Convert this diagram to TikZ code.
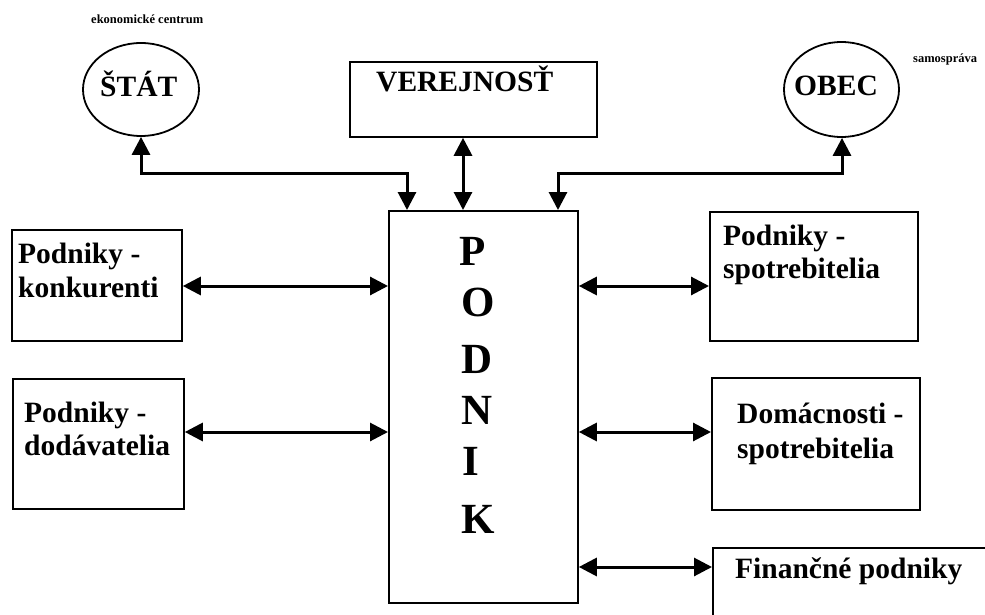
\documentclass[tikz,border=0pt]{standalone}
\usepackage{fontspec}
\setmainfont{Liberation Serif}
\usetikzlibrary{shapes.geometric,arrows.meta}
\begin{document}
\begin{tikzpicture}[x=1pt,y=-1pt,
  frame/.style={draw,line width=1.8pt,rectangle,inner sep=0pt,anchor=north west},
  oval/.style={draw,line width=1.8pt,ellipse,inner sep=0pt},
  lbl/.style={font=\fontsize{29.5}{34}\selectfont\bfseries,inner sep=0pt,anchor=base west},
  note/.style={font=\fontsize{12.5}{14}\selectfont\bfseries,inner sep=0pt,anchor=base west},
  big/.style={font=\fontsize{43}{50}\selectfont\bfseries,inner sep=0pt,anchor=base west},
  conn/.style={line width=3pt,{Triangle[length=18pt,width=18pt]}-{Triangle[length=18pt,width=18pt]}}
]
\useasboundingbox (0,0) rectangle (985,615);

% central block
\node[frame,minimum width=189pt,minimum height=392pt] (podnik) at (388,210) {};
\node[big] (p1) at (459,265) {P};
\node[big] (p2) at (461,316) {O};
\node[big] (p3) at (461,373) {D};
\node[big] (p4) at (461,424) {N};
\node[big] (p5) at (462,475) {I};
\node[big] (p6) at (461,533) {K};

% top partners
\node[oval,minimum width=116pt,minimum height=93pt] (stat) at (141,89.5) {};
\node[lbl] (statT) at (100,97) {ŠTÁT};
\node[note] (statN) at (91,24) {ekonomické centrum};

\node[frame,minimum width=247pt,minimum height=75pt] (ver) at (349,61) {};
\node[lbl] (verT) at (376,92) {VEREJNOSŤ};

\node[oval,minimum width=115pt,minimum height=95pt] (obec) at (841.5,89.5) {};
\node[lbl] (obecT) at (794,96) {OBEC};
\node[note] (obecN) at (913,63) {samospráva};

% left partners
\node[frame,minimum width=170pt,minimum height=111pt] (konk) at (11,229) {};
\node[lbl] (konkA) at (18,263) {Podniky -};
\node[lbl] (konkB) at (18,297) {konkurenti};

\node[frame,minimum width=171pt,minimum height=130pt] (dod) at (12,378) {};
\node[lbl] (dodA) at (24,422) {Podniky -};
\node[lbl] (dodB) at (24,455) {dodávatelia};

% right partners
\node[frame,minimum width=208pt,minimum height=129pt] (spot) at (709,211) {};
\node[lbl] (spotA) at (723,245) {Podniky -};
\node[lbl] (spotB) at (723,278) {spotrebitelia};

\node[frame,minimum width=208pt,minimum height=132pt] (dom) at (711,377) {};
\node[lbl] (domA) at (737,423) {Domácnosti -};
\node[lbl] (domB) at (737,458) {spotrebitelia};

\node[frame,minimum width=300pt,minimum height=100pt] (fin) at (712,547) {};
\node[lbl] (finT) at (735,578) {Finančné podniky};

% routing points
\coordinate (tl) at (407,173);
\coordinate (tm) at (463,173);
\coordinate (tr) at (558,173);
\coordinate (to) at (842,173);
\coordinate (r1) at (0,286);
\coordinate (r2) at (0,432);
\coordinate (r3) at (0,567);

% connectors
\draw[conn] (stat.south) |- (tl) -- (tl |- podnik.north);
\draw[conn] (ver.south -| tm) -- (tm |- podnik.north);
\draw[conn] (obec.south -| to) -- (to) -| (tr |- podnik.north);

\draw[conn] (konk.east |- r1) -- (podnik.west |- r1);
\draw[conn] (dod.east |- r2) -- (podnik.west |- r2);
\draw[conn] (podnik.east |- r1) -- (spot.west |- r1);
\draw[conn] (podnik.east |- r2) -- (dom.west |- r2);
\draw[conn] (podnik.east |- r3) -- (fin.west |- r3);
\end{tikzpicture}
\end{document}
